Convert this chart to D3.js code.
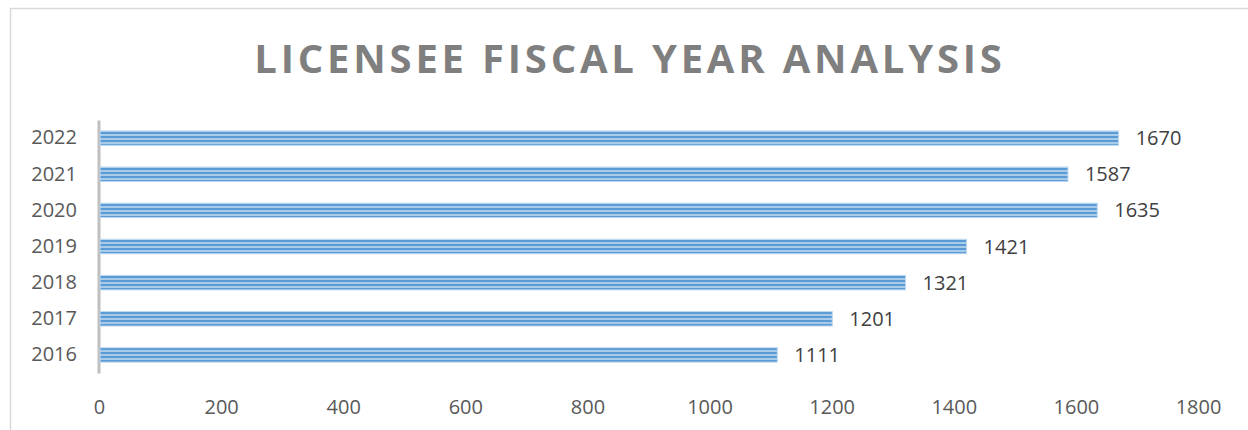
<!DOCTYPE html>
<html>
<head>
<meta charset="utf-8">
<script src="https://cdn.jsdelivr.net/npm/d3@7"></script>
<style>
  html, body { margin: 0; padding: 0; background: #fff; }
  #viz { width: 1248px; height: 430px; }
</style>
</head>
<body>
<div id="viz"></div>
<script>
//Datos
const YEARS = ['2016', '2017', '2018', '2019', '2020', '2021', '2022'];
const VALUES = [1111, 1201, 1321, 1421, 1635, 1587, 1670];
const X_TICKS = [0, 200, 400, 600, 800, 1000, 1200, 1400, 1600, 1800];
const TITLE = 'LICENSEE FISCAL YEAR ANALYSIS';

const COLOR_DARK = '#5B9BD5',
COLOR_LIGHT = '#A9CBEA',
COLOR_TEXT = '#595959',
COLOR_TITLE = '#7F7F7F',
COLOR_AXIS = '#BFBFBF';

let data = YEARS.map(function(d, i) { return { year: d, value: VALUES[i] }; });

let W = 1248, H = 430;
let margin = {top: 120, right: 50, bottom: 57, left: 99},
    width = 1198 - margin.left,
    height = H - margin.top - margin.bottom;

let root = d3.select('#viz').append('svg')
    .attr('width', W)
    .attr('height', H);

//Marco
root.append('rect')
    .attr('x', 10.5).attr('y', 8.5)
    .attr('width', W).attr('height', H)
    .attr('fill', 'none')
    .attr('stroke', '#D9D9D9')
    .attr('stroke-width', 1.5);

//Patrón de rayas
let defs = root.append('defs');
let pat = defs.append('pattern')
    .attr('id', 'stripes')
    .attr('patternUnits', 'userSpaceOnUse')
    .attr('width', 8).attr('height', 4);
pat.append('rect').attr('width', 8).attr('height', 4).attr('fill', COLOR_LIGHT);
pat.append('rect').attr('width', 8).attr('height', 2).attr('fill', COLOR_DARK);

//Título
root.append('text')
    .attr('x', 630)
    .attr('y', 73)
    .attr('text-anchor', 'middle')
    .style('font-family', '"Open Sans", sans-serif')
    .style('font-weight', 'bold')
    .style('font-size', '40px')
    .style('letter-spacing', '3.8px')
    .style('fill', COLOR_TITLE)
    .text(TITLE);

let svg = root.append('g')
    .attr('transform', 'translate(' + margin.left + ',' + margin.top + ')');

let x = d3.scaleLinear()
    .domain([0, 1800])
    .range([0, width]);

let y = d3.scaleBand()
    .domain(YEARS.slice().reverse())
    .range([0, height])
    .paddingInner(0.6)
    .paddingOuter(0.3);

//Eje X (solo etiquetas)
let xAxis = svg.append('g')
    .attr('transform', 'translate(0,' + height + ')')
    .call(d3.axisBottom(x).tickValues(X_TICKS).tickSize(0).tickPadding(27).tickFormat(d3.format('d')));
xAxis.select('.domain').remove();
xAxis.selectAll('text')
    .style('font-family', '"Open Sans", sans-serif')
    .style('font-size', '20px')
    .style('fill', COLOR_TEXT);

//Eje Y
let yAxis = svg.append('g')
    .call(d3.axisLeft(y).tickSize(0).tickPadding(22));
yAxis.select('.domain')
    .attr('stroke', COLOR_AXIS)
    .attr('stroke-width', 3)
    .attr('transform', 'translate(-0.5,0)');
yAxis.selectAll('text')
    .style('font-family', '"Open Sans", sans-serif')
    .style('font-size', '20px')
    .style('fill', COLOR_TEXT);

//Barras
svg.selectAll('.bars')
    .data(data)
    .enter()
    .append('rect')
    .attr('class', 'bars')
    .attr('x', x(0) + 1)
    .attr('y', function(d) { return y(d.year); })
    .attr('width', function(d) { return x(d.value) - x(0) - 1; })
    .attr('height', y.bandwidth())
    .attr('fill', 'url(#stripes)')
    .attr('stroke', '#BDD7EE')
    .attr('stroke-width', 1);

//Etiquetas de valor
svg.selectAll('.labels')
    .data(data)
    .enter()
    .append('text')
    .attr('x', function(d) { return x(d.value) + 17; })
    .attr('y', function(d) { return y(d.year) + y.bandwidth() / 2; })
    .attr('dy', '0.35em')
    .style('font-family', '"Open Sans", sans-serif')
    .style('font-size', '20px')
    .style('fill', '#404040')
    .text(function(d) { return d.value; });
</script>
</body>
</html>
